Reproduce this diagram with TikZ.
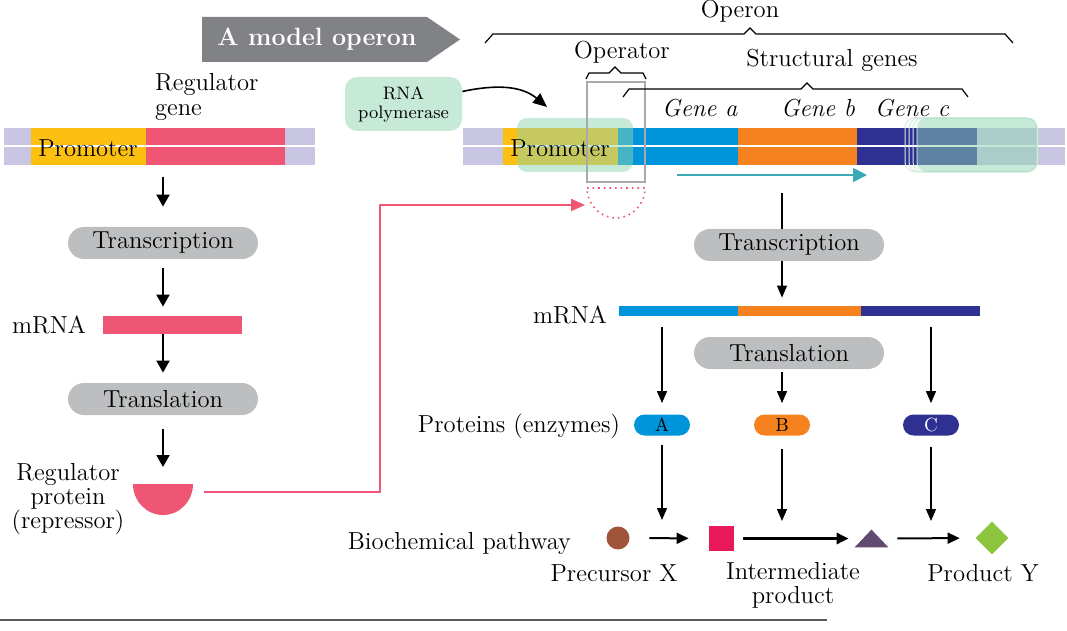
\documentclass[tikz,border=0pt]{standalone}
\usepackage{fontspec}
\usepackage{tikz}
\usetikzlibrary{arrows.meta,shapes.geometric}

\definecolor{barlav}{HTML}{C8C6E3}
\definecolor{promoyel}{HTML}{FDC010}
\definecolor{regpink}{HTML}{EE5673}
\definecolor{geneablue}{HTML}{0095DA}
\definecolor{genebor}{HTML}{F5821F}
\definecolor{genecnavy}{HTML}{2E3192}
\definecolor{polgreen}{HTML}{8FD3B0}
\definecolor{pillgray}{HTML}{BCBEC0}
\definecolor{bannergray}{HTML}{808285}
\definecolor{runteal}{HTML}{3BA9B6}
\definecolor{precbrown}{HTML}{A0553B}
\definecolor{intred}{HTML}{E8185A}
\definecolor{prodtri}{HTML}{5F4B70}
\definecolor{prodgreen}{HTML}{8CC63F}
\definecolor{opgray}{HTML}{A7A9AC}
\definecolor{rulegray}{HTML}{58595B}

\tikzset{
  pill/.style={fill=pillgray, rounded corners=8pt, minimum width=95pt, minimum height=16pt, inner sep=0pt},
  enzyme/.style={rounded corners=5.25pt, minimum width=28pt, minimum height=10.5pt, inner sep=0pt, font=\fontsize{9.5}{10}\selectfont},
  arr/.style={-{Triangle[length=6pt,width=6.5pt]}, line width=1pt},
  thinarr/.style={-{Triangle[length=6pt,width=5pt]}, line width=0.6pt},
  patharr/.style={-{Triangle[length=6pt,width=5.5pt]}, line width=1pt},
  polbox/.style={fill=polgreen, fill opacity=0.5, text opacity=1, rounded corners=6pt}
}

\begin{document}
\begin{tikzpicture}[x=0.5pt,y=-0.5pt,font=\fontsize{12.3}{12.5}\selectfont]
\useasboundingbox (0,0) rectangle (1067,631);

%title
\fill[bannergray] (202,17) -- (427,17) -- (460,39.5) -- (427,62) -- (202,62) -- cycle;
\node[text=white, font=\fontsize{12.5}{14}\selectfont\bfseries] (title) at (317,39.5) {A model operon};

%regulator gene
\fill[barlav] (4,128) rectangle (315,165);
\fill[promoyel] (31,128) rectangle (146,165);
\fill[regpink] (146,128) rectangle (285,165);
\draw[white, line width=1pt] (4,146.5) -- (315,146.5);
\node (prom1) at (88,148) {Promoter};
\node[anchor=west, align=left] (reggene) at (148,97) {Regulator\\gene};
\coordinate (gene1) at (163,165);

%left column
\node[pill] (trans1) at (163,243) {Transcription};
\node[fill=regpink, minimum width=69.5pt, minimum height=9pt, inner sep=0pt] (mrna1) at (172.5,325) {};
\node (mrna1lab) at (49,325) {mRNA};
\node[pill] (transl1) at (163,399) {Translation};
\fill[regpink] (133,484) arc[start angle=180, end angle=360, x radius=15pt, y radius=15.5pt] -- cycle;
\coordinate (rep) at (163,484);
\coordinate (repend) at (204,492);
\node[align=center, font=\fontsize{12.3}{12}\selectfont] (replab) at (68,499) {Regulator\\protein\\(repressor)};

\draw[arr, shorten <=6pt, shorten >=10pt] (gene1) -- (trans1);
\draw[arr, shorten <=4.5pt, shorten >=4.5pt] (trans1) -- (trans1 |- mrna1.north);
\draw[arr, shorten >=5pt] (trans1 |- mrna1.south) -- (transl1);
\draw[arr, shorten <=7pt, shorten >=8.5pt] (transl1) -- (rep);

%operon
\fill[barlav] (463,128) rectangle (1065,165);
\fill[promoyel] (503,128) rectangle (618,165);
\fill[geneablue] (618,128) rectangle (738,165);
\fill[genebor] (738,128) rectangle (857,165);
\fill[genecnavy] (857,128) rectangle (977,165);
\draw[white, line width=1pt] (463,146.5) -- (1065,146.5);
\fill[polgreen, fill opacity=0.5, rounded corners=5pt] (517,118) rectangle (633,172);
\node (prom2) at (560,148) {Promoter};
\foreach \dx in {0,4,8,12}
{
    \draw[polgreen!40, line width=0.5pt, rounded corners=5pt] (905+\dx,118) rectangle (1037,172);
}
\fill[polgreen, fill opacity=0.5, rounded corners=5pt] (918,118) rectangle (1037,172);

%operator
\draw[opgray, line width=0.6pt] (587,82) rectangle (645,182);
\draw[regpink, dotted, line width=0.8pt] (587,188) -- (645,188) arc[start angle=0, end angle=-180, x radius=14.5pt, y radius=15pt];
\coordinate (bend) at (380,205);
\coordinate (opsite) at (585,205);
\draw[regpink, line width=1.1pt, -{Triangle[length=7pt,width=6pt]}] (repend) -| (bend) -- (opsite);

%braces
\foreach \l/\m/\r/\y/\h/\e in {485/750/1013/43/9/8, 586/615/646/79/6/3, 623/807/968/97/8/6}
{
    \draw[line width=0.6pt] (\l,\y) -- (\l+\e,\y-\h) -- (\m-6,\y-\h) -- (\m,\y-\h-6) -- (\m+6,\y-\h) -- (\r-\e,\y-\h) -- (\r,\y);
}
\node (operon) at (740,11) {Operon};
\node (operator) at (622,52) {Operator};
\node (sgenes) at (832,60) {Structural genes};
\node (gena) at (700,108) {\textit{Gene a}};
\node (genb) at (818,108) {\textit{Gene b}};
\node (genc) at (912,108) {\textit{Gene c}};

%rna polymerase
\node[polbox, minimum width=58.5pt, minimum height=27pt, align=center, font=\fontsize{9}{9.5}\selectfont] (rnap) at (403.5,104) {RNA\\polymerase};
\coordinate (poltip) at (547,107);
\draw[-{Triangle[length=7pt,width=6pt]}, line width=0.8pt] (rnap.12) to[out=12,in=140] (poltip);
\coordinate (runstart) at (677,175);
\coordinate (runend) at (867,175);
\draw[runteal, line width=0.8pt, -{Triangle[length=7pt,width=7pt]}] (runstart) -- (runend);

%right column
\node[pill] (trans2) at (789,245) {Transcription};
\coordinate (bar2) at (782,193);
\draw[line width=0.6pt] (bar2) -- (bar2 |- trans2.north);
\node[minimum width=180.5pt, minimum height=5pt, inner sep=0pt] (mrna2) at (799.5,311) {};
\fill[geneablue] (619,306) rectangle (738,316);
\fill[genebor] (738,306) rectangle (861,316);
\fill[genecnavy] (861,306) rectangle (980,316);
\node (mrna2lab) at (570,315) {mRNA};
\node[pill] (transl2) at (789,353) {Translation};
\node[enzyme, fill=geneablue] (enza) at (662,425) {A};
\node[enzyme, fill=genebor] (enzb) at (782,425) {B};
\node[enzyme, fill=genecnavy, text=white] (enzc) at (931,425) {C};
\node[anchor=east] (protlab) at (627,426) {Proteins (enzymes)};

\draw[thinarr, shorten >=4pt] (trans2.south -| bar2) -- (bar2 |- mrna2.north);
\draw[thinarr, shorten <=5.5pt, shorten >=5.5pt] (enza |- mrna2.south) -- (enza);
\draw[thinarr, shorten <=1.5pt, shorten >=5.5pt] (transl2.south -| enzb) -- (enzb);
\draw[thinarr, shorten <=5.5pt, shorten >=5.5pt] (enzc |- mrna2.south) -- (enzc);

%biochemical pathway
\node[circle, fill=precbrown, minimum size=11.5pt, inner sep=0pt] (precx) at (618,538) {};
\node[fill=intred, minimum size=12.5pt, inner sep=0pt] (inter) at (721.5,538.5) {};
\node[minimum width=16.5pt, minimum height=8.5pt, inner sep=0pt] (interp) at (871.5,538.5) {};
\fill[prodtri] (interp.south west) -- (interp.south east) -- (interp.north) -- cycle;
\node[diamond, fill=prodgreen, minimum width=16.5pt, minimum height=16.5pt, inner sep=0pt] (prody) at (992,538) {};

\draw[patharr, shorten <=9.75pt, shorten >=10pt] (precx) -- (inter);
\draw[patharr, line width=1.5pt, shorten <=4.5pt, shorten >=3pt] (inter) -- (interp);
\draw[patharr, shorten <=4.5pt, shorten >=7.75pt] (interp) -- (prody);

\draw[thinarr, shorten <=4.75pt, shorten >=9pt] (enza) -- (enza |- precx);
\draw[thinarr, shorten <=6.75pt, shorten >=8.75pt] (enzb) -- (enzb |- inter);
\draw[thinarr, shorten <=5.75pt, shorten >=8.5pt] (enzc) -- (enzc |- prody);

\node[anchor=east] (biolab) at (578,543) {Biochemical pathway};
\node (preclab) at (614,573) {Precursor X};
\node[align=center, font=\fontsize{12.3}{12}\selectfont] (interlab) at (793,585) {Intermediate\\product};
\node (prodlab) at (983,573) {Product Y};

\draw[rulegray, line width=1pt] (0,620) -- (827,620);
\end{tikzpicture}
\end{document}
